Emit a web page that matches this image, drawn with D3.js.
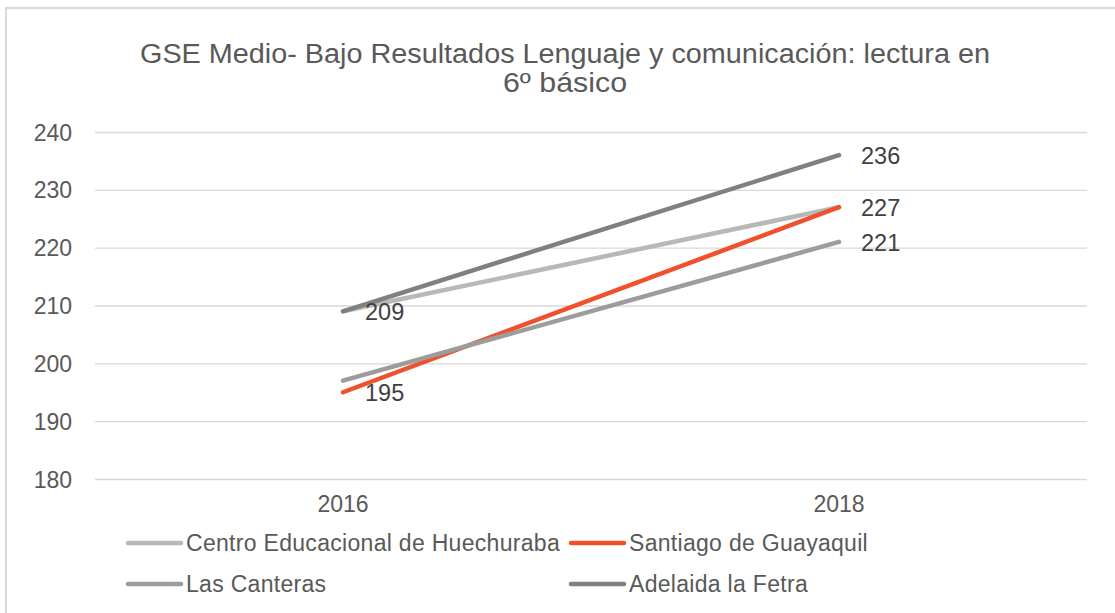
<!DOCTYPE html>
<html>
<head>
<meta charset="utf-8">
<script src="https://cdn.jsdelivr.net/npm/d3@7"></script>
<style>
  body { margin: 0; background: #fff; }
  svg text { font-family: "Liberation Sans", Arial, sans-serif; }
</style>
</head>
<body>
<div id="chart"></div>
<script>
// data
var years = ['2016', '2018'];
var seriesNames = ['Centro Educacional de Huechuraba', 'Santiago de Guayaquil', 'Las Canteras', 'Adelaida la Fetra'];
var centro = [209, 227];
var santiago = [195, 227];
var canteras = [197, 221];
var adelaida = [209, 236];
var colors = ['#b8b8b8', '#f0502a', '#9c9c9c', '#808080'];
// which points carry a value label
var labelFlags = [[false, false], [true, true], [false, true], [true, true]];
var yTicks = [180, 190, 200, 210, 220, 230, 240];
var titleLines = ['GSE Medio- Bajo Resultados Lenguaje y comunicación: lectura en', '6º básico'];

var allValues = [centro, santiago, canteras, adelaida];
var series = seriesNames.map(function(name, i) {
  return {name: name, values: allValues[i], color: colors[i], labels: labelFlags[i]};
});

var width = 1115, height = 613;
var plot = {left: 95, right: 1087, top: 132, bottom: 479};

var svg = d3.select('#chart').append('svg')
  .attr('width', width)
  .attr('height', height);

// chart frame
svg.append('rect')
  .attr('x', 6).attr('y', 8)
  .attr('width', 1120).attr('height', 620)
  .attr('fill', '#fff')
  .attr('stroke', '#d9d9d9')
  .attr('stroke-width', 2);

// title is set in a condensed face in the original, squeeze it to the same width
var titleWidths = [850, 124];
svg.selectAll('.title')
  .data(titleLines).enter()
  .append('text')
    .attr('class', 'title')
    .attr('x', 565)
    .attr('y', function(d, i) { return 63 + i * 29; })
    .attr('text-anchor', 'middle')
    .attr('fill', '#595959')
    .attr('textLength', function(d, i) { return titleWidths[i]; })
    .attr('lengthAdjust', 'spacingAndGlyphs')
    .style('font-size', '27px')
    .text(function(d) { return d; });

var x = d3.scaleBand().domain(years).range([plot.left, plot.right]);
var y = d3.scaleLinear().domain([180, 240]).range([plot.bottom, plot.top]);

function cx(yr) { return x(yr) + x.bandwidth() / 2; }

// gridlines + y labels
var yAxis = d3.axisLeft(y)
  .tickValues(yTicks)
  .tickSize(-(plot.right - plot.left))
  .tickPadding(23)
  .tickFormat(d3.format('d'));

var gy = svg.append('g')
  .attr('transform', 'translate(' + plot.left + ',0)')
  .call(yAxis);
gy.select('.domain').remove();
gy.selectAll('.tick line').attr('stroke', '#d9d9d9').attr('stroke-width', 1.3);
gy.selectAll('.tick text')
  .attr('fill', '#595959')
  .style('font-size', '23px')
  .attr('dy', '0.35em');

// x labels
var xAxis = d3.axisBottom(x).tickSize(0).tickPadding(17);
var gx = svg.append('g')
  .attr('transform', 'translate(0,' + plot.bottom + ')')
  .call(xAxis);
gx.select('.domain').remove();
gx.selectAll('.tick text')
  .attr('fill', '#595959')
  .style('font-size', '23px');

var line = d3.line()
  .x(function(d, i) { return cx(years[i]); })
  .y(function(d) { return y(d); });

svg.selectAll('.series')
  .data(series).enter()
  .append('path')
    .attr('class', 'series')
    .attr('d', function(d) { return line(d.values); })
    .attr('fill', 'none')
    .attr('stroke', function(d) { return d.color; })
    .attr('stroke-width', 4.5)
    .attr('stroke-linecap', 'round');

// value labels
var labelData = [];
series.forEach(function(s) {
  s.values.forEach(function(v, i) {
    if (s.labels[i]) labelData.push({year: years[i], value: v});
  });
});

svg.selectAll('.vlabel')
  .data(labelData).enter()
  .append('text')
    .attr('class', 'vlabel')
    .attr('x', function(d) { return cx(d.year) + 22; })
    .attr('y', function(d) { return y(d.value); })
    .attr('dy', '0.38em')
    .attr('fill', '#404040')
    .style('font-size', '23.5px')
    .text(function(d) { return d.value; });

// legend
var legendPos = [[128, 543], [571, 543], [128, 584], [571, 584]];
var legend = svg.selectAll('.legend')
  .data(series).enter()
  .append('g')
    .attr('class', 'legend')
    .attr('transform', function(d, i) { return 'translate(' + legendPos[i][0] + ',' + legendPos[i][1] + ')'; });

legend.append('line')
  .attr('x1', 0).attr('x2', 53)
  .attr('stroke', function(d) { return d.color; })
  .attr('stroke-width', 4.5)
  .attr('stroke-linecap', 'round');

legend.append('text')
  .attr('x', 58)
  .attr('dy', '0.35em')
  .attr('fill', '#595959')
  .style('font-size', '23px')
  .style('letter-spacing', '0.3px')
  .text(function(d) { return d.name; });
</script>
</body>
</html>
